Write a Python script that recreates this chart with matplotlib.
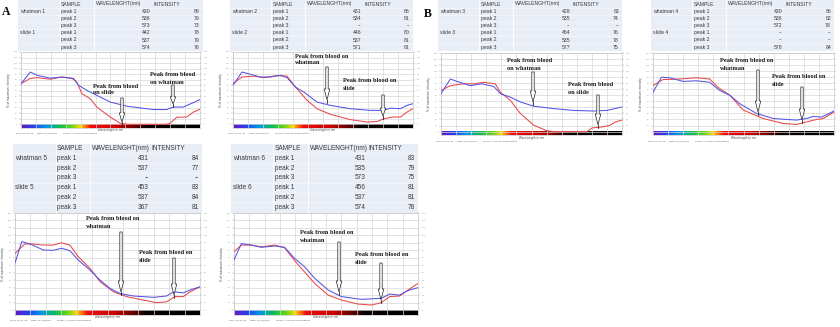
import numpy as np
import matplotlib
matplotlib.use('Agg')
import matplotlib.pyplot as plt
from matplotlib.colors import LinearSegmentedColormap
from matplotlib.patches import Rectangle, FancyArrow

# ---------------- DATA ----------------
# Tables: (sample, peak, wavelength, intensity)
t1_names = ["whatman 1", "", "", "slide 1", "", ""]
t1_wl = ["430", "536", "573", "442", "537", "574"]
t1_int = ["89", "79", "73", "78", "79", "76"]
t2_names = ["whatman 2", "", "", "slide 2", "", ""]
t2_wl = ["431", "534", "--", "446", "537", "571"]
t2_int = ["86", "81", "--", "80", "81", "81"]
t3_names = ["whatman 3", "", "", "slide 3", "", ""]
t3_wl = ["428", "535", "--", "464", "535", "577"]
t3_int = ["83", "74", "--", "76", "78", "75"]
t4_names = ["whatman 4", "", "", "slide 4", "", ""]
t4_wl = ["430", "536", "572", "--", "--", "578"]
t4_int = ["86", "82", "78", "--", "--", "84"]
t5_names = ["whatman 5", "", "", "slide 5", "", ""]
t5_wl = ["431", "537", "--", "453", "537", "367"]
t5_int = ["84", "77", "--", "83", "84", "81"]
t6_names = ["whatman 6", "", "", "slide 6", "", ""]
t6_wl = ["431", "535", "573", "456", "537", "574"]
t6_int = ["83", "79", "75", "81", "81", "78"]
peak_labels = ["peak 1", "peak 2", "peak 3", "peak 1", "peak 2", "peak 3"]
headers = ["SAMPLE", "WAVELENGHT(nm)", "INTENSITY"]

# Spectra (wavelength nm, % of maximum intensity)
p1_blue_wl = [350, 381, 404, 448, 487, 526, 543, 571, 604, 649, 705, 749, 794, 838, 861, 894, 928, 950]
p1_blue = [73, 94, 88, 83, 85, 82.5, 70, 61, 52, 40, 32.5, 29.5, 26.5, 26.5, 31, 31, 39, 44.5]
p1_red_wl = [350, 381, 404, 448, 487, 521, 537, 554, 582, 604, 649, 682, 705, 838, 850, 872, 905, 928, 950]
p1_red = [73, 82.5, 84, 81, 85, 82.5, 76, 55, 46, 31, 13, 2, 0, 0, 2, 12.6, 13, 22, 27]

p2_blue_wl = [350, 380, 408, 441, 474, 508, 530, 558, 586, 630, 674, 741, 808, 852, 874, 908, 930, 950]
p2_blue = [70, 94, 90, 85, 85, 88, 84, 67, 58, 40, 34, 28, 25, 25, 29, 28, 34, 37]
p2_red_wl = [350, 380, 419, 452, 497, 530, 558, 597, 630, 674, 741, 797, 830, 852, 880, 908, 930, 950]
p2_red = [73.5, 85, 86.6, 84, 87.5, 86.6, 67, 43, 28, 18, 8.4, 4, 5, 9.6, 13, 13, 22, 28]

p3_blue_wl = [350, 381, 403, 447, 486, 525, 547, 580, 613, 657, 723, 790, 856, 900, 950]
p3_blue = [62.6, 87, 83, 76, 79, 74.6, 62.6, 57, 49, 42, 38, 35, 34, 35, 40.7]
p3_red_wl = [350, 381, 425, 458, 491, 530, 547, 580, 613, 657, 701, 723, 834, 851, 889, 911, 928, 950]
p3_red = [68, 76, 79, 79, 81.6, 79, 65, 51.6, 30, 10.6, 1.4, 0, 0, 6, 8, 10.6, 16, 19]

p4_blue_wl = [350, 378, 405, 450, 494, 538, 571, 605, 638, 693, 749, 826, 859, 881, 909, 950]
p4_blue = [65, 90, 89, 83, 84, 81.6, 68, 60, 46, 30, 21.6, 19, 21.6, 25, 24, 34]
p4_red_wl = [350, 383, 439, 494, 538, 566, 605, 649, 715, 782, 826, 859, 892, 915, 950]
p4_red = [76, 86, 87, 89, 87, 73, 60, 35.7, 21.6, 13.4, 11.8, 16, 20, 21.6, 32.5]

p5_blue_wl = [350, 372, 399, 442, 474, 501, 528, 555, 593, 626, 658, 691, 734, 799, 842, 864, 896, 923, 950]
p5_blue = [63, 91.6, 88.5, 80.4, 80, 82.7, 79.5, 67, 53.6, 40, 29, 22, 18.8, 17, 18.8, 24.5, 23, 27.7, 31]
p5_red_wl = [350, 382, 409, 442, 474, 501, 528, 555, 593, 626, 669, 712, 755, 809, 842, 869, 896, 918, 950]
p5_red = [76, 88.5, 88.5, 87, 87, 90, 87, 71.5, 56, 38, 24.5, 18, 14.3, 9.8, 11, 18, 18, 24.5, 31]

p6_blue_wl = [350, 374, 407, 439, 483, 515, 548, 580, 613, 657, 700, 765, 830, 858, 890, 917, 950]
p6_blue = [67, 89, 87, 84, 85.8, 84, 69, 58, 42.5, 26.8, 18, 14.3, 15.7, 21.4, 20, 26, 30]
p6_red_wl = [350, 374, 407, 439, 483, 515, 548, 580, 613, 657, 700, 754, 798, 830, 858, 890, 917, 950]
p6_red = [78, 87, 87, 84.7, 87, 83.4, 66, 51, 35.7, 20, 13.4, 8, 6.7, 9.8, 18, 18.8, 26.8, 35.7]

# ---------------- LAYOUT ----------------
W, H = 840, 327
fig = plt.figure(figsize=(8.4, 3.27), dpi=100)

def rect(x0, y0, x1, y1):
    return [x0 / W, 1 - y1 / H, (x1 - x0) / W, (y1 - y0) / H]

spec_cmap = LinearSegmentedColormap.from_list("spec", [
    (0.00, (0.40, 0.10, 0.75)), (0.07, (0.15, 0.25, 0.95)), (0.14, (0.00, 0.60, 0.90)),
    (0.22, (0.05, 0.75, 0.30)), (0.29, (0.45, 0.85, 0.05)), (0.33, (1.00, 0.85, 0.00)),
    (0.36, (1.00, 0.45, 0.00)), (0.39, (0.95, 0.05, 0.05)), (0.54, (0.80, 0.00, 0.00)),
    (0.64, (0.40, 0.00, 0.00)), (0.71, (0.03, 0.00, 0.00)), (1.00, (0.0, 0.0, 0.0))])

YMIN = -6
panels = [
    dict(box=(21, 52, 200, 127.6), b=(p1_blue_wl, p1_blue), r=(p1_red_wl, p1_red), rl=True),
    dict(box=(233, 52, 413, 127.6), b=(p2_blue_wl, p2_blue), r=(p2_red_wl, p2_red), rl=True),
    dict(box=(441, 53, 622, 135.2), b=(p3_blue_wl, p3_blue), r=(p3_red_wl, p3_red), rl=True),
    dict(box=(653, 53, 834, 135.2), b=(p4_blue_wl, p4_blue), r=(p4_red_wl, p4_red), rl=False),
    dict(box=(15, 213, 200, 314.5), b=(p5_blue_wl, p5_blue), r=(p5_red_wl, p5_red), rl=True),
    dict(box=(234, 213, 418, 314.5), b=(p6_blue_wl, p6_blue), r=(p6_red_wl, p6_red), rl=True),
]

for p in panels:
    x0, y0, x1, y1 = p["box"]
    ax = fig.add_axes(rect(x0, y0, x1, y1))
    ax.set_xlim(350, 950)
    ax.set_ylim(YMIN, 130)
    ax.imshow(np.linspace(0, 1, 400)[None, :], cmap=spec_cmap, aspect='auto',
              extent=[350, 950, YMIN, 0], zorder=1, interpolation='nearest')
    ax.set_xticks(np.arange(350, 951, 50))
    ax.set_yticks(np.arange(0, 131, 10))
    ax.grid(color='#d6d6d6', lw=0.5, zorder=0)
    ax.tick_params(labelsize=1.5, length=1.5, width=0.3, colors='#9a9a9a', pad=1,
                   left=True, right=True, labelright=p["rl"], bottom=False, labelbottom=False)
    for s in ax.spines.values():
        s.set_color('#c8c8c8')
        s.set_linewidth(0.5)
    ax.plot(*p["r"], color='#e8474a', lw=0.75, zorder=3)
    ax.plot(*p["b"], color='#5454e4', lw=0.75, zorder=3)
    ax.set_ylabel('% of maximum intensity', fontsize=2, labelpad=1.5, color='#444444')
    ax.set_xlabel('Wavelength in nm', fontsize=2, labelpad=0.6, color='#444444')

# overlay for tables, annotations
ov = fig.add_axes([0, 0, 1, 1])
ov.set_xlim(0, W)
ov.set_ylim(H, 0)
ov.axis('off')
ov.patch.set_alpha(0)

TF = 'Liberation Sans'

def draw_table(L, R, top, bottom, yh, ys, fs, names, wls, ints):
    w = R - L
    ov.add_patch(Rectangle((L, top), w, bottom - top, facecolor='#e9eef6', edgecolor='none'))
    rh = ys[1] - ys[0]
    for yy in [yh] + list(ys[:-1]):
        ov.plot([L, R], [yy + rh / 2, yy + rh / 2], color='white', lw=0.5, ls=(0, (1, 1)))
    for fx in (0.225, 0.41):
        ov.plot([L + fx * w, L + fx * w], [top, bottom], color='white', lw=0.6)
    tc = '#3a3a3a'
    ov.text(L + 0.233 * w, yh, headers[0], fontsize=fs, va='center', ha='left', color=tc, family=TF)
    ov.text(L + 0.42 * w, yh, headers[1], fontsize=fs, va='center', ha='left', color=tc, family=TF)
    ov.text(L + 0.733 * w, yh, headers[2], fontsize=fs, va='center', ha='left', color=tc, family=TF)
    for i, yy in enumerate(ys):
        ov.text(L + 0.012 * w, yy, names[i], fontsize=fs, va='center', ha='left', color=tc, family=TF)
        ov.text(L + 0.233 * w, yy, peak_labels[i], fontsize=fs, va='center', ha='left', color=tc, family=TF)
        ov.text(L + 0.718 * w, yy, wls[i], fontsize=fs, va='center', ha='right', color=tc, family=TF)
        ov.text(R - 3, yy, ints[i], fontsize=fs, va='center', ha='right', color=tc, family=TF)

top_rows = [11.2, 18.4, 25.6, 32.8, 40.0, 47.2]
bot_rows = [158.3, 168.1, 177.9, 187.7, 197.5, 207.3]
draw_table(18, 203, 0, 51, 4, top_rows, 3.7, t1_names, t1_wl, t1_int)
draw_table(230, 413, 0, 51, 4, top_rows, 3.7, t2_names, t2_wl, t2_int)
draw_table(438, 622, 0, 51, 4, top_rows, 3.7, t3_names, t3_wl, t3_int)
draw_table(651, 834, 0, 51, 4, top_rows, 3.7, t4_names, t4_wl, t4_int)
draw_table(13, 202, 143.5, 212.5, 148.5, bot_rows, 4.7, t5_names, t5_wl, t5_int)
draw_table(231, 418, 143.5, 212.5, 148.5, bot_rows, 4.7, t6_names, t6_wl, t6_int)

# footer small text under each plot
for p in panels:
    x0, y0, x1, y1 = p["box"]
    ov.text(x0 - 5, y1 + 5.5, "Time 10:21:33     Date 12/10/2015        Folder 1 Current Parameters",
            fontsize=1.7, color='#555555', va='center', ha='left')

# annotations
notes = [
    (93, 87, 93, "Peak from blood", "on slide"),
    (150, 75, 82, "Peak from blood", "on whatman"),
    (295, 56, 62, "Peak from blood on", "whatman"),
    (343, 81, 88, "Peak from blood on", "slide"),
    (507, 61, 68, "Peak from blood", "on whatman"),
    (568, 85, 92, "Peak from blood", "on slide"),
    (720, 61, 68, "Peak from blood on", "whatman"),
    (772, 77, 85, "Peak from blood on", "slide"),
    (86, 218, 227, "Peak from blood on", "whatman"),
    (139, 253, 260, "Peak from blood on", "slide"),
    (300, 232, 240, "Peak from blood on", "whatman"),
    (355, 255, 263, "Peak from blood on", "slide"),
]
for x, ya, yb, l1, l2 in notes:
    ov.text(x, ya, l1, fontsize=4.6, fontweight='bold', family='Liberation Serif',
            va='center', ha='left', color='#1a1a1a')
    ov.text(x, yb, l2, fontsize=4.6, fontweight='bold', family='Liberation Serif',
            va='center', ha='left', color='#1a1a1a')

arrows = [(122, 98, 125), (173, 85, 107), (327, 67, 103), (383, 95, 119),
          (533, 72, 105), (598, 95, 128), (758, 70, 115), (802, 87, 123),
          (121, 232, 295), (174, 258, 298), (339, 242, 295), (381, 263, 303)]
for x, ya, yb in arrows:
    tail = 3
    L = yb - tail - ya
    hl = min(11, 0.38 * L)
    ov.add_patch(FancyArrow(x, ya, 0, L, width=2.4, head_width=5.5, head_length=hl,
                            length_includes_head=True, facecolor='white',
                            edgecolor='#222222', lw=0.5, zorder=5))
    ov.plot([x, x], [yb - tail, yb], color='#222222', lw=0.6, zorder=5)

ov.text(6, 12, "A", fontsize=8.5, fontweight='bold', family='Liberation Serif', va='center', ha='center')
ov.text(428, 14, "B", fontsize=8.5, fontweight='bold', family='Liberation Serif', va='center', ha='center')

fig.savefig('out.png', dpi=100)
